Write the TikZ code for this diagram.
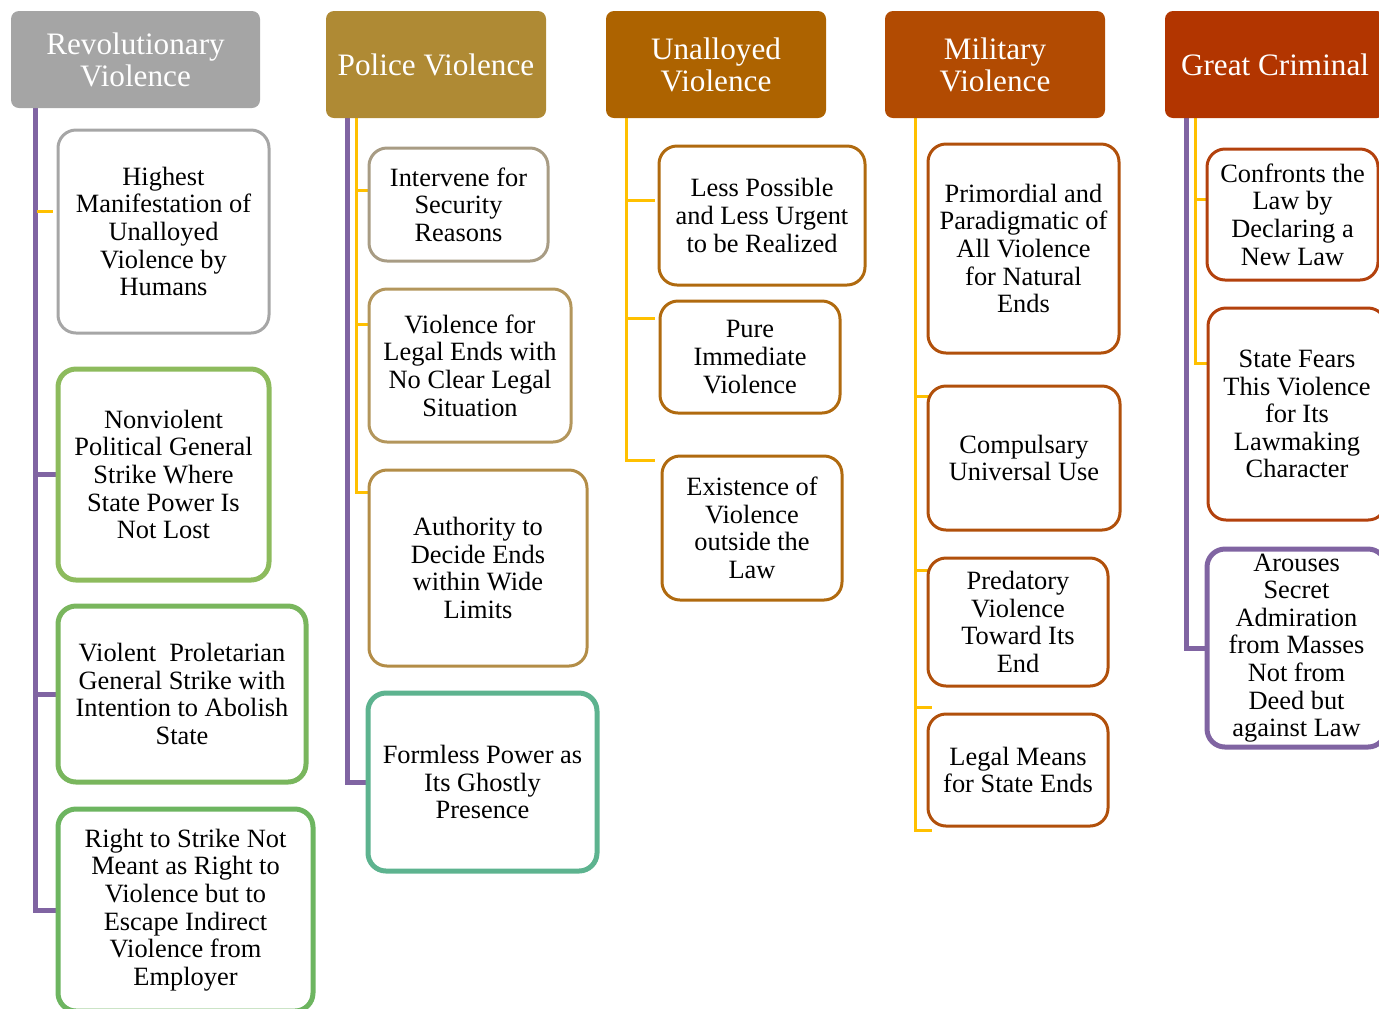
\documentclass[tikz,border=0pt]{standalone}
\usepackage{fontspec}
\setmainfont{Liberation Serif}
\usetikzlibrary{backgrounds}
\definecolor{vpurple}{HTML}{8064A2}
\definecolor{vgold}{HTML}{FFC000}
\definecolor{hgray}{HTML}{A5A5A5}
\definecolor{hpolice}{HTML}{AF8A34}
\definecolor{hunal}{HTML}{AD6300}
\definecolor{hmil}{HTML}{B24B02}
\definecolor{hcrim}{HTML}{B23500}
\definecolor{bgray}{HTML}{A6A6A6}
\definecolor{bgreenA}{HTML}{8DBB5D}
\definecolor{bgreenB}{HTML}{79B65D}
\definecolor{bgreenC}{HTML}{6DB560}
\definecolor{btaupe}{HTML}{A89C84}
\definecolor{btan}{HTML}{B3965C}
\definecolor{bgold}{HTML}{B38D47}
\definecolor{bteal}{HTML}{5DB38F}
\definecolor{bunal}{HTML}{B06A0F}
\definecolor{bmil}{HTML}{B1500B}
\definecolor{bcrim}{HTML}{B3410D}
\begin{document}
\begin{tikzpicture}[x=0.5pt,y=-0.5pt,
  head/.style={fill=#1, rounded corners=4pt, inner sep=0pt, align=center, text=white,
    font=\fontsize{15.6}{16}\selectfont, minimum width=110pt, minimum height=53.5pt},
  item/.style={draw=#1, fill=white, rounded corners=9pt, line width=1.5pt, inner sep=0pt,
    align=center, font=\fontsize{13.2}{13.8}\selectfont},
  heavy/.style={line width=2.5pt},
  purp/.style={draw=vpurple, line width=2.5pt},
  orng/.style={draw=vgold, line width=1.5pt}]
\useasboundingbox (0,0) rectangle (1379,1008);
\clip (0,0) rectangle (1379,1008);

% ---- connector anchors ----
\coordinate (r1p) at (35,108);
\coordinate (r1oa) at (37,211);
\coordinate (r1ob) at (53,211);
\coordinate (r2p) at (347,118);
\coordinate (r2o) at (356,118);
\coordinate (p2a) at (368,190);
\coordinate (p2b) at (368,324);
\coordinate (p2c) at (368,492);
\coordinate (r3o) at (626,118);
\coordinate (p3a) at (655,200);
\coordinate (p3b) at (655,318);
\coordinate (p3c) at (655,460);
\coordinate (r4o) at (915,118);
\coordinate (p4a) at (932,396);
\coordinate (p4b) at (932,570);
\coordinate (p4c) at (932,707);
\coordinate (p4d) at (932,830);
\coordinate (r5p) at (1186,118);
\coordinate (r5o) at (1195,118);
\coordinate (p5a) at (1210,199);
\coordinate (p5b) at (1210,363);

% ---- boxes ----
\node[item=bgray, minimum width=105.5pt, minimum height=101.5pt] (b1) at (163.5,231.5)
  {Highest\\Manifestation of\\Unalloyed\\Violence by\\Humans};
\node[item=bgreenA, heavy, minimum width=105.5pt, minimum height=105.5pt] (b2) at (163.5,474.5)
  {Nonviolent\\Political General\\Strike Where\\State Power Is\\Not Lost};
\node[item=bgreenB, heavy, minimum width=124pt, minimum height=88pt] (b3) at (182,694)
  {Violent\ \ Proletarian\\General Strike with\\Intention to Abolish\\State};
\node[item=bgreenC, heavy, minimum width=127.5pt, minimum height=101pt] (b4) at (185.5,910)
  {Right to Strike Not\\Meant as Right to\\Violence but to\\Escape Indirect\\Violence from\\Employer};

\node[item=btaupe, minimum width=89.5pt, minimum height=56.5pt] (c1) at (458.5,204.5)
  {Intervene for\\Security\\Reasons};
\node[item=btan, minimum width=101pt, minimum height=76.5pt] (c2) at (470,365.5)
  {Violence for\\Legal Ends with\\No Clear Legal\\Situation};
\node[item=bgold, minimum width=109pt, minimum height=98pt] (c3) at (478,568)
  {Authority to\\Decide Ends\\within Wide\\Limits};
\node[item=bteal, heavy, minimum width=114.5pt, minimum height=89pt] (c4) at (482.5,782)
  {Formless Power as\\Its Ghostly\\Presence};

\node[item=bunal, minimum width=103pt, minimum height=69.5pt] (u1) at (762,215.5)
  {Less Possible\\and Less Urgent\\to be Realized};
\node[item=bunal, minimum width=90pt, minimum height=56pt] (u2) at (750,357)
  {Pure\\Immediate\\Violence};
\node[item=bunal, minimum width=90pt, minimum height=72pt] (u3) at (752,528)
  {Existence of\\Violence\\outside the\\Law};

\node[item=bmil, minimum width=95.5pt, minimum height=104.5pt] (m1) at (1023.5,248.5)
  {Primordial and\\Paradigmatic of\\All Violence\\for Natural\\Ends};
\node[item=bmil, minimum width=96pt, minimum height=72pt] (m2) at (1024,458)
  {Compulsary\\Universal Use};
\node[item=bmil, minimum width=90pt, minimum height=64pt] (m3) at (1018,622)
  {Predatory\\Violence\\Toward Its\\End};
\node[item=bmil, minimum width=90pt, minimum height=56pt] (m4) at (1018,770)
  {Legal Means\\for State Ends};

\node[item=bcrim, minimum width=85.5pt, minimum height=65.5pt] (g1) at (1292.5,214.5)
  {Confronts the\\Law by\\Declaring a\\New Law};
\node[item=bcrim, minimum width=89pt, minimum height=106pt] (g2) at (1297,414)
  {State Fears\\This Violence\\for Its\\Lawmaking\\Character};
\node[item=vpurple, heavy, minimum width=89.5pt, minimum height=99pt] (g3) at (1296.5,648)
  {Arouses\\Secret\\Admiration\\from Masses\\Not from\\Deed but\\against Law};

% ---- connectors, kept behind the boxes ----
\begin{scope}[on background layer]
\draw[purp] (r1p) |- (b4.west);
\draw[purp] (r1p |- b2.west) -- (b2.west);
\draw[purp] (r1p |- b3.west) -- (b3.west);
\draw[orng] (r1oa) -- (r1ob);

\draw[purp] (r2p) |- (c4.west);
\draw[orng] (r2o) |- (p2c);
\draw[orng] (r2o |- p2a) -- (p2a);
\draw[orng] (r2o |- p2b) -- (p2b);

\draw[orng] (r3o) |- (p3c);
\draw[orng] (r3o |- p3a) -- (p3a);
\draw[orng] (r3o |- p3b) -- (p3b);

\draw[orng] (r4o) |- (p4d);
\draw[orng] (r4o |- p4a) -- (p4a);
\draw[orng] (r4o |- p4b) -- (p4b);
\draw[orng] (r4o |- p4c) -- (p4c);

\draw[purp] (r5p) |- (g3.west);
\draw[orng] (r5o) |- (p5b);
\draw[orng] (r5o |- p5a) -- (p5a);
\end{scope}

% ---- category headers ----
\node[head=hgray, minimum width=124.5pt, minimum height=48.5pt] (h1) at (135.5,59.5)
  {Revolutionary\\Violence};
\node[head=hpolice] (h2) at (436,64.5) {Police Violence};
\node[head=hunal] (h3) at (716,64.5) {Unalloyed\\Violence};
\node[head=hmil] (h4) at (995,64.5) {Military\\Violence};
\node[head=hcrim] (h5) at (1275,64.5) {Great Criminal};
\end{tikzpicture}
\end{document}
